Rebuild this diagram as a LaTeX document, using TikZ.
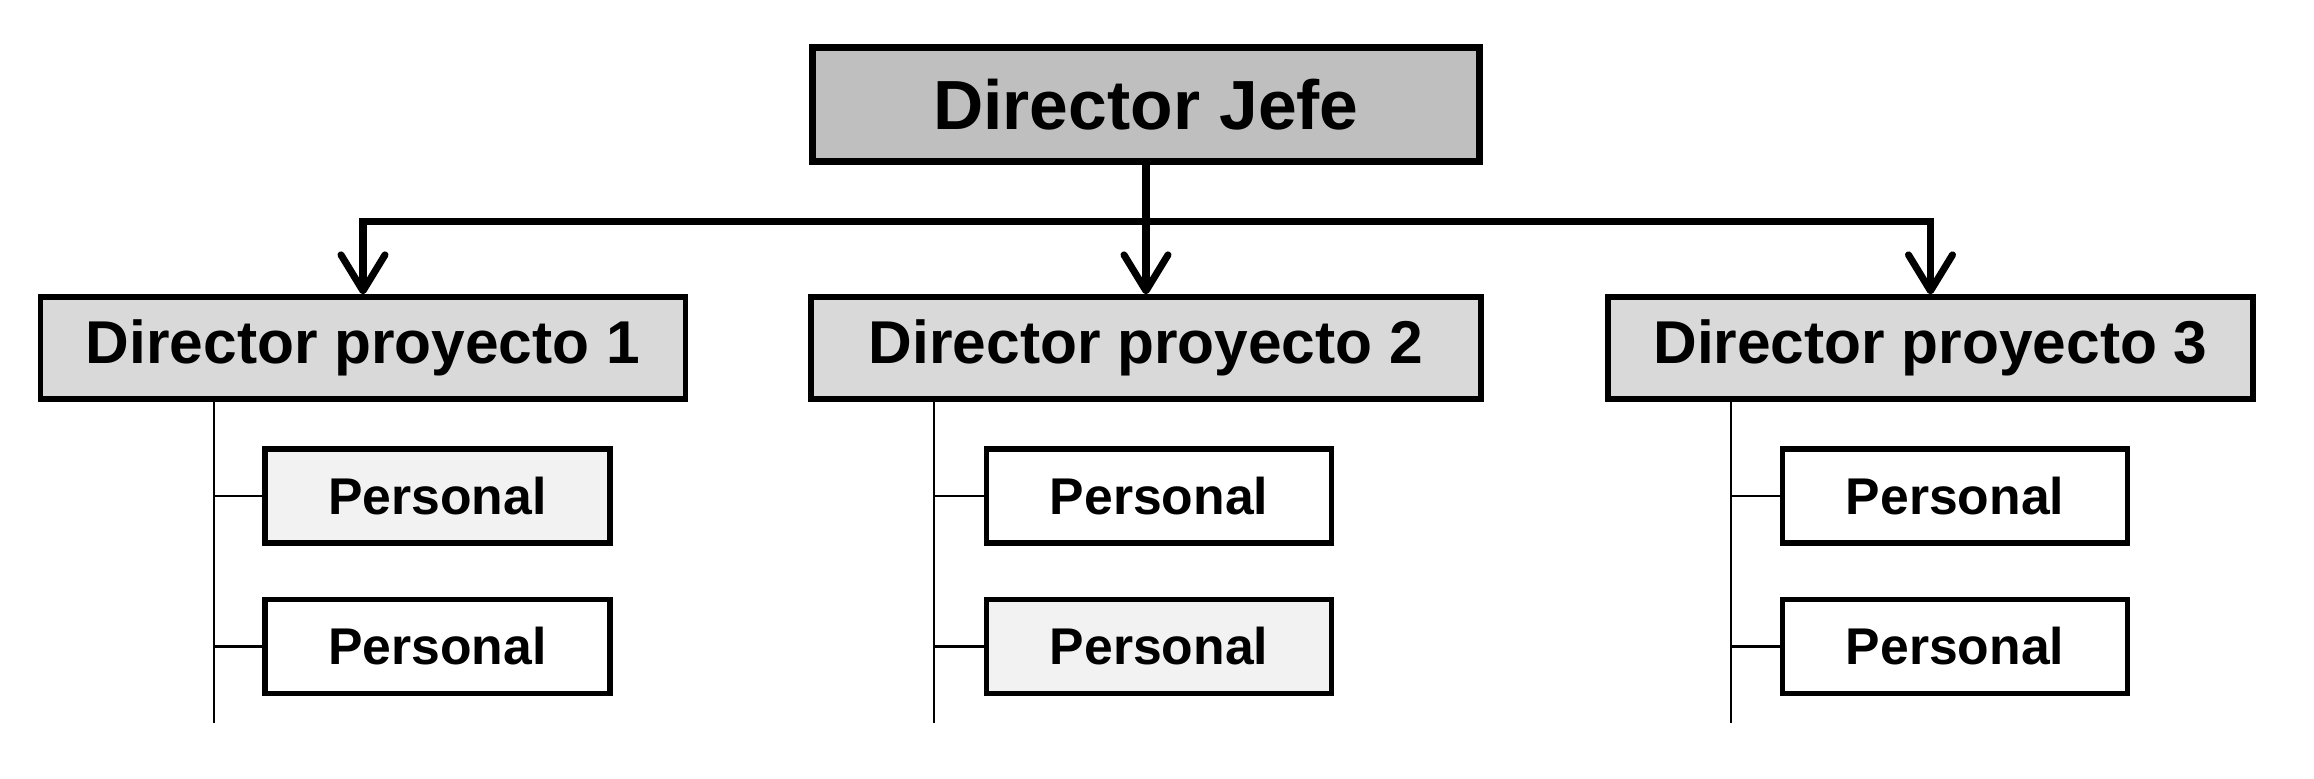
\documentclass[tikz,border=0pt]{standalone}
\usepackage{fontspec}
\setmainfont{Liberation Sans}
\usetikzlibrary{arrows.meta, positioning}

\begin{document}
\begin{tikzpicture}[
    node distance=0.51cm,
    >={Straight Barb[length=3.6mm, width=4.4mm, round]},
    jefebox/.style={rectangle, draw=black, fill=black!25, line width=2.1pt, minimum width=6.67cm, minimum height=1.14cm, font=\bfseries\fontsize{19.8}{24}\selectfont},
    projbox/.style={rectangle, draw=black, fill=black!15, line width=1.5pt, minimum height=1.02cm, font=\bfseries\fontsize{17.2}{21}\selectfont},
    persbox/.style={rectangle, draw=black, fill=white, line width=1.5pt, minimum width=3.45cm, minimum height=0.94cm, font=\bfseries\fontsize{14.7}{18}\selectfont},
    marca/.style={fill=black!5},
    arrow/.style={line width=2pt},
    rama/.style={line width=0.7pt}
]
\useasboundingbox (0,0) rectangle (23.14,-7.78);

% Director jefe
\node[jefebox] (jefe) at (11.46,-1.045) {Director Jefe};

% Directores de proyecto
\node[projbox, minimum width=6.45cm] (proy1) at (3.63,-3.48) {Director proyecto 1};
\node[projbox, minimum width=6.70cm] (proy2) at (11.46,-3.48) {Director proyecto 2};
\node[projbox, minimum width=6.45cm] (proy3) at (19.305,-3.48) {Director proyecto 3};

% Personal
\node[persbox, marca] (pers1a) at (4.375,-4.96) {Personal};
\node[persbox, below=of pers1a] (pers1b) {Personal};
\node[persbox] (pers2a) at (11.59,-4.96) {Personal};
\node[persbox, marca, below=of pers2a] (pers2b) {Personal};
\node[persbox] (pers3a) at (19.55,-4.96) {Personal};
\node[persbox, below=of pers3a] (pers3b) {Personal};

% Flechas
\coordinate (barra) at (0,-2.21);
\draw[arrow, <->] (proy1.north) |- (barra -| jefe.south) -| (proy3.north);
\draw[arrow, ->] (jefe.south) -- (proy2.north);

% Lineas del personal
\coordinate (fin1) at (2.14,-7.23);
\coordinate (fin2) at (9.34,-7.23);
\coordinate (fin3) at (17.31,-7.23);
\draw[rama] (proy1.south -| fin1) -- (fin1);
\draw[rama] (proy2.south -| fin2) -- (fin2);
\draw[rama] (proy3.south -| fin3) -- (fin3);
\draw[rama] (pers1a.west) -- (pers1a.west -| fin1);
\draw[rama] (pers1b.west) -- (pers1b.west -| fin1);
\draw[rama] (pers2a.west) -- (pers2a.west -| fin2);
\draw[rama] (pers2b.west) -- (pers2b.west -| fin2);
\draw[rama] (pers3a.west) -- (pers3a.west -| fin3);
\draw[rama] (pers3b.west) -- (pers3b.west -| fin3);

\end{tikzpicture}
\end{document}
